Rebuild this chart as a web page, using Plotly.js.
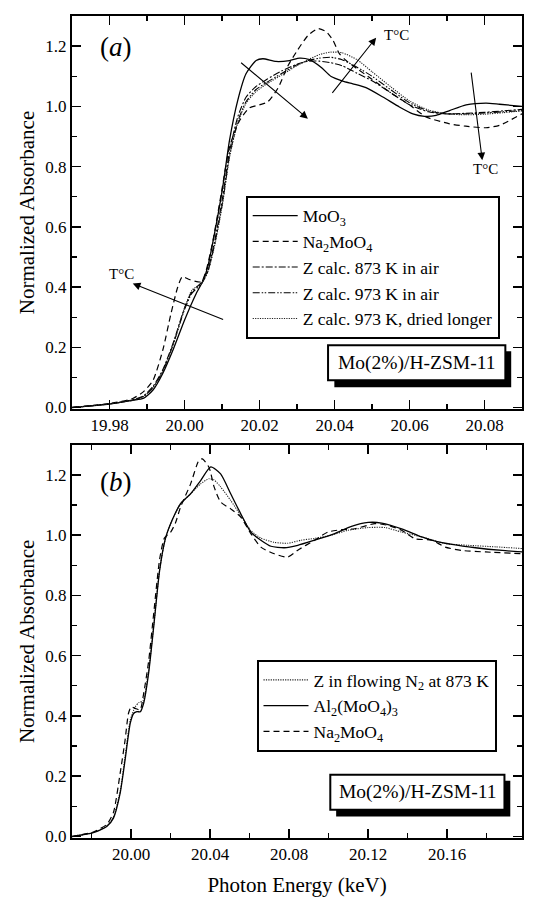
<!DOCTYPE html>
<html>
<head>
<meta charset="utf-8">
<script src="https://cdn.plot.ly/plotly-3.0.1.min.js"></script>
<style>html,body{margin:0;padding:0;background:#fff;}#chart{width:556px;height:897px;}</style>
</head>
<body>
<div id="chart"></div>
<script>
// ---------- Panel (a) data ----------
const moo3X = [19.97, 19.98, 19.9862, 19.989, 19.9916, 19.9942, 19.9969, 20.000, 20.0031, 20.0049, 20.0062, 20.008, 20.0102, 20.012, 20.0142, 20.0164, 20.0191, 20.0209, 20.0244, 20.028, 20.0307, 20.0333, 20.0364, 20.0391, 20.0422, 20.0449, 20.0484, 20.0529, 20.0573, 20.0609, 20.064, 20.0671, 20.0707, 20.0751, 20.0804, 20.084, 20.09];
const moo3Y = [0.0, 0.011, 0.024, 0.030, 0.058, 0.113, 0.190, 0.290, 0.378, 0.420, 0.467, 0.577, 0.732, 0.887, 1.020, 1.108, 1.152, 1.158, 1.149, 1.152, 1.160, 1.155, 1.130, 1.099, 1.084, 1.075, 1.062, 1.031, 0.998, 0.975, 0.967, 0.970, 0.986, 1.005, 1.011, 1.007, 1.000];

const na2X = [19.97, 19.98, 19.9862, 19.989, 19.9916, 19.9942, 19.9964, 19.9982, 19.9994, 20.0013, 20.0036, 20.0046, 20.0058, 20.0076, 20.0098, 20.012, 20.0147, 20.0173, 20.020, 20.0222, 20.0249, 20.0276, 20.0298, 20.0329, 20.0356, 20.0378, 20.0396, 20.0413, 20.0431, 20.046, 20.050, 20.055, 20.060, 20.0644, 20.0707, 20.0750, 20.0804, 20.084, 20.09];
const na2Y = [0.0, 0.013, 0.030, 0.052, 0.090, 0.190, 0.312, 0.400, 0.434, 0.425, 0.417, 0.418, 0.456, 0.555, 0.710, 0.865, 0.953, 0.995, 1.005, 1.015, 1.060, 1.135, 1.180, 1.235, 1.258, 1.248, 1.219, 1.175, 1.152, 1.125, 1.090, 1.045, 1.005, 0.965, 0.942, 0.934, 0.929, 0.937, 0.975];

const zX = [19.97, 19.98, 19.986, 19.989, 19.9916, 19.9942, 19.997, 20.000, 20.002, 20.0045, 20.0062, 20.008, 20.0102, 20.012, 20.0142, 20.0164, 20.019, 20.022, 20.026, 20.030, 20.033, 20.036, 20.039, 20.042, 20.046, 20.050, 20.055, 20.060, 20.065, 20.070, 20.075, 20.080, 20.085, 20.09];
const z873Y = [0.0, 0.012, 0.025, 0.038, 0.070, 0.125, 0.215, 0.330, 0.385, 0.415, 0.455, 0.550, 0.700, 0.850, 0.965, 1.030, 1.065, 1.090, 1.118, 1.140, 1.150, 1.150, 1.145, 1.135, 1.110, 1.085, 1.045, 1.005, 0.982, 0.975, 0.977, 0.980, 0.985, 0.990];
const z973Y = [0.0, 0.012, 0.024, 0.036, 0.066, 0.120, 0.210, 0.325, 0.380, 0.410, 0.450, 0.540, 0.685, 0.835, 0.950, 1.015, 1.055, 1.080, 1.110, 1.138, 1.152, 1.160, 1.163, 1.155, 1.130, 1.100, 1.055, 1.012, 0.985, 0.975, 0.975, 0.978, 0.982, 0.986];
const zDryY = [0.0, 0.012, 0.024, 0.036, 0.066, 0.120, 0.210, 0.330, 0.390, 0.412, 0.450, 0.535, 0.680, 0.830, 0.945, 1.010, 1.048, 1.075, 1.105, 1.135, 1.155, 1.172, 1.180, 1.178, 1.155, 1.115, 1.065, 1.018, 0.988, 0.975, 0.972, 0.974, 0.979, 0.985];

// ---------- Panel (b) data ----------
const alX = [19.97, 19.9808, 19.9876, 19.991, 19.9944, 19.9969, 19.9995, 20.0012, 20.0029, 20.0046, 20.0063, 20.0088, 20.0114, 20.0144, 20.0173, 20.0207, 20.025, 20.0301, 20.0352, 20.0403, 20.0453, 20.0504, 20.0555, 20.0606, 20.0657, 20.0708, 20.0776, 20.0844, 20.0929, 20.1031, 20.1116, 20.1201, 20.1269, 20.137, 20.1472, 20.154, 20.1625, 20.1744, 20.188, 20.199];
const alY = [0.0, 0.013, 0.033, 0.061, 0.144, 0.254, 0.375, 0.408, 0.414, 0.414, 0.442, 0.541, 0.696, 0.883, 0.988, 1.049, 1.104, 1.137, 1.181, 1.226, 1.203, 1.137, 1.071, 1.010, 0.983, 0.963, 0.958, 0.966, 0.983, 1.005, 1.029, 1.042, 1.040, 1.021, 0.994, 0.980, 0.969, 0.958, 0.949, 0.944];

const na2bX = [19.97, 19.9808, 19.9876, 19.991, 19.9944, 19.9969, 19.9986, 20.000, 20.002, 20.0045, 20.0062, 20.0088, 20.0114, 20.0144, 20.0168, 20.020, 20.0224, 20.025, 20.0301, 20.0343, 20.036, 20.0394, 20.042, 20.0453, 20.0504, 20.0555, 20.0606, 20.0657, 20.0725, 20.0793, 20.0844, 20.0929, 20.0997, 20.1065, 20.1133, 20.1235, 20.1303, 20.137, 20.1438, 20.1523, 20.1591, 20.1676, 20.1795, 20.199];
const na2bY = [0.0, 0.015, 0.040, 0.080, 0.210, 0.320, 0.408, 0.430, 0.425, 0.420, 0.470, 0.580, 0.740, 0.920, 0.990, 1.010, 1.040, 1.093, 1.170, 1.248, 1.253, 1.225, 1.160, 1.110, 1.087, 1.060, 1.005, 0.960, 0.938, 0.927, 0.950, 0.983, 1.010, 1.018, 1.021, 1.038, 1.032, 1.016, 0.988, 0.983, 0.960, 0.949, 0.944, 0.938];

const zN2X = [19.97, 19.9808, 19.9876, 19.991, 19.9944, 19.9969, 19.9995, 20.002, 20.004, 20.006, 20.0088, 20.0114, 20.0144, 20.0173, 20.0207, 20.025, 20.0301, 20.0352, 20.0394, 20.042, 20.0453, 20.0504, 20.0555, 20.0606, 20.0657, 20.0725, 20.0793, 20.0861, 20.0929, 20.1014, 20.1099, 20.1201, 20.1286, 20.137, 20.1472, 20.1591, 20.171, 20.1846, 20.199];
const zN2Y = [0.0, 0.013, 0.035, 0.065, 0.150, 0.265, 0.385, 0.430, 0.445, 0.450, 0.550, 0.700, 0.885, 0.988, 1.049, 1.104, 1.137, 1.170, 1.187, 1.183, 1.160, 1.115, 1.065, 1.015, 0.990, 0.976, 0.973, 0.983, 0.989, 1.000, 1.016, 1.025, 1.025, 1.010, 0.994, 0.972, 0.966, 0.961, 0.955];

// ---------- Labels ----------
const namesA = ["MoO<sub>3</sub>", "Na<sub>2</sub>MoO<sub>4</sub>", "Z calc. 873 K in air", "Z calc. 973 K in air", "Z calc. 973 K, dried longer"];
const namesB = ["Z in flowing N<sub>2</sub> at 873 K", "Al<sub>2</sub>(MoO<sub>4</sub>)<sub>3</sub>", "Na<sub>2</sub>MoO<sub>4</sub>"];
const yTitle = "Normalized Absorbance";
const xTitle = "Photon Energy (keV)";
const sampleLabel = "Mo(2%)/H-ZSM-11";
const tempLabel = "T°C";

const FONT = "Liberation Serif";
const sp = {shape: "spline", smoothing: 0.6};

const traces = [
  {x: moo3X, y: moo3Y, name: namesA[0], mode: "lines", line: Object.assign({color: "#000", width: 1.3, dash: "solid"}, sp), xaxis: "x", yaxis: "y", legend: "legend"},
  {x: na2X, y: na2Y, name: namesA[1], mode: "lines", line: Object.assign({color: "#000", width: 1.2, dash: "6px,4px"}, sp), xaxis: "x", yaxis: "y", legend: "legend"},
  {x: zX, y: z873Y, name: namesA[2], mode: "lines", line: Object.assign({color: "#000", width: 1.1, dash: "7px,2px,2px,2px"}, sp), xaxis: "x", yaxis: "y", legend: "legend"},
  {x: zX, y: z973Y, name: namesA[3], mode: "lines", line: Object.assign({color: "#000", width: 1.1, dash: "7px,2px,1.5px,1.5px,1.5px,2px"}, sp), xaxis: "x", yaxis: "y", legend: "legend"},
  {x: zX, y: zDryY, name: namesA[4], mode: "lines", line: Object.assign({color: "#222", width: 1.1, dash: "1.2px,1.2px"}, sp), xaxis: "x", yaxis: "y", legend: "legend"},
  {x: zN2X, y: zN2Y, name: namesB[0], mode: "lines", line: Object.assign({color: "#222", width: 1.1, dash: "1.2px,1.2px"}, sp), xaxis: "x2", yaxis: "y2", legend: "legend2"},
  {x: alX, y: alY, name: namesB[1], mode: "lines", line: Object.assign({color: "#000", width: 1.3, dash: "solid"}, sp), xaxis: "x2", yaxis: "y2", legend: "legend2"},
  {x: na2bX, y: na2bY, name: namesB[2], mode: "lines", line: Object.assign({color: "#000", width: 1.2, dash: "6px,4px"}, sp), xaxis: "x2", yaxis: "y2", legend: "legend2"}
];

function xAx(range, tick0, dtick, minorD, anchor, title) {
  const a = {
    range: range, anchor: anchor, tick0: tick0, dtick: dtick, tickformat: ".2f",
    ticks: "inside", ticklen: 9, tickwidth: 1.5, tickcolor: "#000",
    minor: {ticks: "inside", dtick: minorD, tick0: tick0, ticklen: 5, tickwidth: 1.2, tickcolor: "#000", showgrid: false},
    showline: true, linewidth: 2, linecolor: "#000", mirror: "ticks",
    showgrid: false, zeroline: false,
    tickfont: {family: FONT, size: 17, color: "#000"}
  };
  if (title) a.title = {text: title, font: {family: FONT, size: 21, color: "#000"}, standoff: 19};
  return a;
}
function yAx(domain, anchor) {
  return {
    domain: domain, anchor: anchor, range: [-0.005, 1.30], tick0: 0, dtick: 0.2, tickformat: ".1f",
    ticks: "inside", ticklen: 9, tickwidth: 1.5, tickcolor: "#000",
    minor: {ticks: "inside", dtick: 0.1, tick0: 0, ticklen: 5, tickwidth: 1.2, tickcolor: "#000", showgrid: false},
    showline: true, linewidth: 2, linecolor: "#000", mirror: "ticks",
    showgrid: false, zeroline: false,
    tickfont: {family: FONT, size: 17, color: "#000"},
    title: {text: yTitle, font: {family: FONT, size: 21, color: "#000"}, standoff: 5}
  };
}

function box(xr, yr, x0, x1, y0, y1, sx0, sx1, sy0, sy1) {
  return [
    {type: "rect", xref: xr, yref: yr, x0: sx0, x1: sx1, y0: sy0, y1: sy1, fillcolor: "#000", line: {width: 0}, layer: "above"},
    {type: "rect", xref: xr, yref: yr, x0: x0, x1: x1, y0: y0, y1: y1, fillcolor: "#fff", line: {color: "#000", width: 2}, layer: "above"}
  ];
}

const arrowStyle = {showarrow: true, arrowhead: 2, arrowsize: 1.4, arrowwidth: 1.1, arrowcolor: "#000", text: "", axref: "x", ayref: "y", xref: "x", yref: "y"};
const tFont = {family: FONT, size: 15, color: "#000"};
const ctr = {xanchor: "center", yanchor: "middle", showarrow: false};

const annotations = [
  Object.assign({xref: "x domain", yref: "y domain", x: 0.098, y: 0.922, text: "(<i>a</i>)", font: {family: FONT, size: 27, color: "#000"}}, ctr),
  Object.assign({xref: "x2 domain", yref: "y2 domain", x: 0.098, y: 0.906, text: "(<i>b</i>)", font: {family: FONT, size: 27, color: "#000"}}, ctr),
  Object.assign({}, arrowStyle, {x: 20.0329, y: 0.959, ax: 20.0147, ay: 1.149}),
  Object.assign({}, arrowStyle, {x: 20.0511, y: 1.228, ax: 20.0391, ay: 1.040}),
  Object.assign({}, arrowStyle, {x: 20.0794, y: 0.821, ax: 20.0764, ay: 1.117}),
  Object.assign({}, arrowStyle, {x: 19.9862, y: 0.4115, ax: 20.0107, ay: 0.290}),
  Object.assign({xref: "x", yref: "y", x: 20.0566, y: 1.236, text: tempLabel, font: tFont}, ctr),
  Object.assign({xref: "x", yref: "y", x: 20.0802, y: 0.793, text: tempLabel, font: tFont}, ctr),
  Object.assign({xref: "x", yref: "y", x: 19.9833, y: 0.4425, text: tempLabel, font: tFont}, ctr),
  Object.assign({xref: "x domain", yref: "y domain", x: 0.766, y: 0.1178, text: sampleLabel, font: {family: FONT, size: 19.5, color: "#000"}}, ctr),
  Object.assign({xref: "x2 domain", yref: "y2 domain", x: 0.7675, y: 0.1161, text: sampleLabel, font: {family: FONT, size: 19.5, color: "#000"}}, ctr)
];

const shapes = [].concat(
  box("x domain", "y domain", 0.569, 0.963, 0.0732, 0.1623, 0.583, 0.976, 0.0554, 0.147),
  box("x2 domain", "y2 domain", 0.574, 0.961, 0.0717, 0.1606, 0.587, 0.974, 0.0546, 0.1454)
);

const legendCommon = {
  xanchor: "left", yanchor: "top", bgcolor: "#fff", bordercolor: "#000", borderwidth: 2,
  font: {family: FONT, size: 17.5, color: "#000"}, itemwidth: 45, tracegroupgap: 0, traceorder: "normal"
};

const layout = {
  width: 556, height: 897,
  margin: {l: 72, r: 34, t: 16, b: 59},
  paper_bgcolor: "#fff", plot_bgcolor: "#fff",
  font: {family: FONT, color: "#000"},
  showlegend: true,
  xaxis: xAx([19.97, 20.09], 19.98, 0.02, 0.01, "y", null),
  yaxis: yAx([0.5219, 1], "x"),
  xaxis2: xAx([19.97, 20.198], 20.00, 0.04, 0.02, "y2", xTitle),
  yaxis2: yAx([0, 0.4785], "x2"),
  legend: Object.assign({x: 0.386, y: 0.7814}, legendCommon),
  legend2: Object.assign({x: 0.41, y: 0.2165}, legendCommon),
  annotations: annotations,
  shapes: shapes
};

Plotly.newPlot("chart", traces, layout, {displayModeBar: false, staticPlot: true});
</script>
</body>
</html>
